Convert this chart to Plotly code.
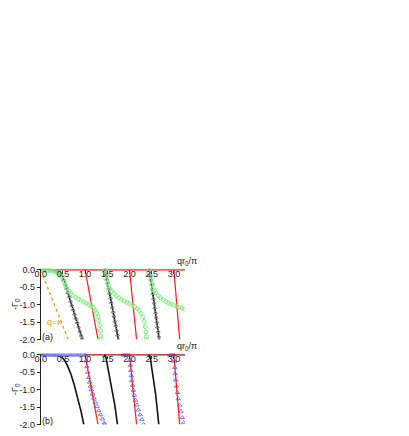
import plotly.graph_objects as go

# ---------------- panel (a) ----------------
red_top_a_x = [0.0, 3.25]
red_top_a_y = [0.0, 0.0]
red_a1_x = [1.0, 1.14, 1.29]
red_a1_y = [0.0, -1.0, -2.0]
red_a2_x = [2.0, 2.08, 2.16]
red_a2_y = [0.0, -1.0, -2.0]
red_a3_x = [3.0, 3.06, 3.13]
red_a3_y = [0.0, -1.0, -2.0]

black_a1_x = [0.0, 0.25, 0.38, 0.45, 0.5, 0.62, 0.8, 0.94]
black_a1_y = [0.0, -0.01, -0.04, -0.1, -0.2, -0.68, -1.43, -2.0]
black_a2_x = [1.45, 1.6, 1.75]
black_a2_y = [0.0, -1.0, -2.0]
black_a3_x = [2.45, 2.56, 2.67]
black_a3_y = [0.0, -1.0, -2.0]

gray_a1_x = [0.0, 0.1, 0.2, 0.3, 0.38, 0.44, 0.48, 0.52, 0.55, 0.58, 0.61, 0.64, 0.67,
             0.70, 0.73, 0.76, 0.79, 0.82, 0.85, 0.88, 0.91, 0.93]
gray_a1_y = [0.0, 0.0, -0.005, -0.02, -0.05, -0.1, -0.16, -0.28, -0.41, -0.53, -0.65, -0.77,
             -0.90, -1.02, -1.14, -1.27, -1.39, -1.51, -1.64, -1.76, -1.88, -1.96]
gray_a2_x = [1.45, 1.47, 1.49, 1.51, 1.53, 1.55, 1.57, 1.59, 1.61, 1.63, 1.65, 1.67, 1.69,
             1.71, 1.73, 1.75]
gray_a2_y = [0.0, -0.13, -0.27, -0.4, -0.53, -0.67, -0.8, -0.93, -1.07, -1.2, -1.33, -1.47,
             -1.6, -1.73, -1.87, -2.0]
gray_a3_x = [2.45, 2.465, 2.48, 2.495, 2.51, 2.525, 2.54, 2.555, 2.57, 2.585, 2.6, 2.615,
             2.63, 2.645, 2.66, 2.67]
gray_a3_y = [0.0, -0.14, -0.27, -0.41, -0.55, -0.68, -0.82, -0.95, -1.09, -1.23, -1.36, -1.5,
             -1.64, -1.77, -1.91, -2.0]

green_a1_x = [0.0, 0.05, 0.1, 0.15, 0.2, 0.25, 0.3, 0.35, 0.4, 0.44, 0.47, 0.5, 0.53, 0.56,
              0.59, 0.63, 0.68, 0.73, 0.79, 0.85, 0.91, 0.97, 1.03, 1.09, 1.14, 1.19, 1.23,
              1.26, 1.29, 1.31, 1.33, 1.345, 1.355, 1.36]
green_a1_y = [0.0, -0.003, -0.006, -0.01, -0.02, -0.03, -0.045, -0.065, -0.09, -0.13, -0.19,
              -0.27, -0.36, -0.45, -0.53, -0.6, -0.67, -0.73, -0.79, -0.84, -0.88, -0.92,
              -0.96, -1.0, -1.04, -1.1, -1.16, -1.24, -1.34, -1.46, -1.6, -1.75, -1.9, -2.0]
green_a2_x = [1.45, 1.47, 1.49, 1.51, 1.53, 1.56, 1.6, 1.65, 1.7, 1.76, 1.82, 1.88, 1.94, 2.0,
              2.06, 2.12, 2.17, 2.22, 2.26, 2.3, 2.33, 2.355, 2.37, 2.38, 2.385]
green_a2_y = [0.0, -0.14, -0.27, -0.38, -0.46, -0.54, -0.61, -0.68, -0.74, -0.8, -0.85, -0.89,
              -0.93, -0.97, -1.01, -1.06, -1.11, -1.17, -1.25, -1.35, -1.48, -1.63, -1.78,
              -1.92, -2.0]
green_a3_x = [2.45, 2.47, 2.49, 2.51, 2.53, 2.56, 2.6, 2.65, 2.7, 2.76, 2.82, 2.88, 2.94, 3.0,
              3.06, 3.12, 3.18, 3.24]
green_a3_y = [0.0, -0.15, -0.3, -0.42, -0.52, -0.6, -0.67, -0.74, -0.8, -0.86, -0.91, -0.95,
              -0.98, -1.01, -1.04, -1.07, -1.1, -1.13]

orange_x = [0.0, 0.62]
orange_y = [0.0, -2.0]

# ---------------- panel (b) ----------------
red_top_b_x = [1.0, 3.25]
red_top_b_y = [0.0, 0.0]
red_b1_x = [1.0, 1.14, 1.29]
red_b1_y = [0.0, -1.0, -2.0]
red_b2_x = [2.0, 2.08, 2.16]
red_b2_y = [0.0, -1.0, -2.0]
red_b3_x = [3.0, 3.06, 3.13]
red_b3_y = [0.0, -1.0, -2.0]

black_b1_x = [0.0, 0.3, 0.4, 0.47, 0.53, 0.6, 0.68, 0.76, 0.84, 0.91, 0.97]
black_b1_y = [0.0, -0.003, -0.02, -0.06, -0.14, -0.3, -0.55, -0.88, -1.26, -1.63, -2.0]
black_b2_x = [1.43, 1.45, 1.47, 1.52, 1.6, 1.67, 1.73]
black_b2_y = [-0.05, 0.0, -0.08, -0.4, -0.95, -1.45, -2.0]
black_b3_x = [2.43, 2.45, 2.47, 2.53, 2.59, 2.66]
black_b3_y = [-0.05, 0.0, -0.1, -0.6, -1.15, -2.0]

blue_b0_x = [0.0, 0.04, 0.08, 0.12, 0.16, 0.2, 0.24, 0.28, 0.32, 0.36, 0.4, 0.44, 0.48, 0.52,
             0.56, 0.6, 0.64, 0.68, 0.72, 0.76, 0.8, 0.84, 0.88, 0.92, 0.96, 1.0]
blue_b0_y = [0.0] * 26
blue_b1_x = [1.0, 1.02, 1.04, 1.06, 1.08, 1.1, 1.12, 1.14, 1.17, 1.2, 1.23, 1.27, 1.31, 1.35,
             1.39, 1.43, 1.44]
blue_b1_y = [0.0, -0.17, -0.34, -0.5, -0.65, -0.78, -0.9, -1.0, -1.12, -1.24, -1.36, -1.48,
             -1.6, -1.72, -1.84, -1.96, -2.0]
blue_b2_x = [1.85, 1.88, 1.91, 1.94, 1.97, 2.0, 2.01, 2.02, 2.03, 2.04, 2.05, 2.07, 2.09, 2.11,
             2.14, 2.17, 2.2, 2.24, 2.28, 2.32]
blue_b2_y = [0.0, 0.0, 0.0, 0.0, 0.0, 0.0, -0.15, -0.3, -0.45, -0.6, -0.74, -0.88, -1.02, -1.16,
             -1.3, -1.44, -1.58, -1.72, -1.86, -2.0]
blue_b3_x = [2.9, 2.93, 2.96, 2.99, 3.0, 3.01, 3.02, 3.03, 3.04, 3.06, 3.08, 3.1, 3.13, 3.16,
             3.19, 3.22]
blue_b3_y = [0.0, 0.0, 0.0, 0.0, 0.0, -0.18, -0.36, -0.54, -0.72, -0.9, -1.08, -1.26, -1.44,
             -1.62, -1.8, -1.95]

x_ticks = [0.0, 0.5, 1.0, 1.5, 2.0, 2.5, 3.0]
x_ticktext = ["0.0", "0.5", "1.0", "1.5", "2.0", "2.5", "3.0"]
y_ticks = [0.0, -0.5, -1.0, -1.5, -2.0]
y_ticktext = ["0.0", "-0.5", "-1.0", "-1.5", "-2.0"]

FONT = "Liberation Sans, Arial, sans-serif"
W, H = 409, 436
OFF = 8  # the page body margin shifts the figure by this many pixels

# panel boxes in screen pixels (top, bottom), converted to figure pixels
TOP_A, BOT_A = 268.5 - OFF, 339.5 - OFF
TOP_B, BOT_B = 353.5 - OFF, 424.5 - OFF
LEFT, RIGHT = 40.7 - OFF, 185 - OFF

fig = go.Figure()


def line(x, y, color, width, ax, dash=None):
    fig.add_trace(go.Scatter(x=x, y=y, mode="lines", xaxis=ax[0], yaxis=ax[1],
                             line=dict(color=color, width=width, dash=dash),
                             showlegend=False, hoverinfo="skip"))


def marks(x, y, color, symbol, ax, size=4, linecolor=None):
    fig.add_trace(go.Scatter(x=x, y=y, mode="lines+markers" if linecolor else "markers",
                             xaxis=ax[0], yaxis=ax[1],
                             line=dict(color=linecolor or color, width=0.8),
                             marker=dict(color=color, symbol=symbol, size=size,
                                         line=dict(color=color, width=1)),
                             showlegend=False, hoverinfo="skip"))


A = ("x", "y")
B = ("x2", "y2")

# panel (a)
line(red_top_a_x, red_top_a_y, "#e86464", 1.6, A)
for xs, ys in [(red_a1_x, red_a1_y), (red_a2_x, red_a2_y), (red_a3_x, red_a3_y)]:
    line(xs, ys, "#ff1a1a", 1.2, A)
line(orange_x, orange_y, "#f59a2a", 1.4, A, dash="dot")
for xs, ys in [(black_a1_x, black_a1_y), (black_a2_x, black_a2_y), (black_a3_x, black_a3_y)]:
    line(xs, ys, "#111111", 1.6, A)
for xs, ys in [(gray_a1_x, gray_a1_y), (gray_a2_x, gray_a2_y), (gray_a3_x, gray_a3_y)]:
    marks(xs, ys, "#8c8c8c", "triangle-up-open", A, size=3.5)
for xs, ys in [(green_a1_x, green_a1_y), (green_a2_x, green_a2_y), (green_a3_x, green_a3_y)]:
    marks(xs, ys, "#86f086", "circle-open", A, linecolor="#a8f5a8")

# panel (b)
for xs, ys in [(black_b1_x, black_b1_y), (black_b2_x, black_b2_y), (black_b3_x, black_b3_y)]:
    line(xs, ys, "#111111", 1.6, B)
for xs, ys in [(blue_b0_x, blue_b0_y), (blue_b1_x, blue_b1_y), (blue_b2_x, blue_b2_y),
               (blue_b3_x, blue_b3_y)]:
    marks(xs, ys, "#7a7aff", "triangle-up-open", B)
line(red_top_b_x, red_top_b_y, "#b01010", 1.4, B)
for xs, ys in [(red_b1_x, red_b1_y), (red_b2_x, red_b2_y), (red_b3_x, red_b3_y)]:
    line(xs, ys, "#ff1a1a", 1.2, B)

xdom = [LEFT / W, RIGHT / W]
tickfont = dict(family=FONT, size=9, color="#222")
# x axis drawn along y = 0 (top edge) with its labels hanging just below, inside the box
xaxis_style = dict(range=[0, 3.25], domain=xdom, side="bottom", anchor="free",
                   showline=False, showgrid=False, zeroline=False, automargin=False,
                   ticks="outside", ticklen=3, tickcolor="#333", ticklabelstandoff=-8,
                   tickvals=x_ticks, ticktext=x_ticktext, tickfont=tickfont)
yaxis_style = dict(range=[-2.0, 0.04], showline=True, linecolor="#222", linewidth=1,
                   showgrid=False, zeroline=False, automargin=False, ticks="outside",
                   ticklen=3, tickcolor="#222", tickvals=y_ticks, ticktext=y_ticktext,
                   tickfont=tickfont)

fig.update_layout(
    width=W, height=H,
    margin=dict(l=0, r=0, t=0, b=0),
    paper_bgcolor="white", plot_bgcolor="white",
    xaxis=dict(position=1 - (TOP_A + 1.4) / H, **xaxis_style),
    xaxis2=dict(position=1 - (TOP_B + 1.4) / H, **xaxis_style),
    yaxis=dict(anchor="x", domain=[1 - BOT_A / H, 1 - TOP_A / H], **yaxis_style),
    yaxis2=dict(anchor="x2", domain=[1 - BOT_B / H, 1 - TOP_B / H], **yaxis_style),
)

txt = dict(family=FONT, size=9, color="#222")
for yr in ["y", "y2"]:
    fig.add_annotation(text="-Γ<sub>0</sub>", xref="paper", yref=yr + " domain",
                       x=(15 - OFF) / W, y=0.5, xanchor="center", yanchor="middle",
                       textangle=-90, showarrow=False, font=txt)
    fig.add_annotation(text="qr<sub>0</sub>/π", xref="paper", yref=yr + " domain",
                       x=(187 - OFF) / W, y=1.0, yanchor="bottom", xanchor="center",
                       showarrow=False, font=txt)
fig.add_annotation(text="(a)", xref="x", yref="y", x=0.16, y=-1.93, xanchor="center",
                   showarrow=False, font=txt)
fig.add_annotation(text="(b)", xref="x2", yref="y2", x=0.16, y=-1.91, xanchor="center",
                   showarrow=False, font=txt)
fig.add_annotation(text="q=κ", xref="x", yref="y", x=0.3, y=-1.5, xanchor="center",
                   showarrow=False, font=dict(family=FONT, size=9, color="#f59a2a"))

fig.write_html("out.html")
